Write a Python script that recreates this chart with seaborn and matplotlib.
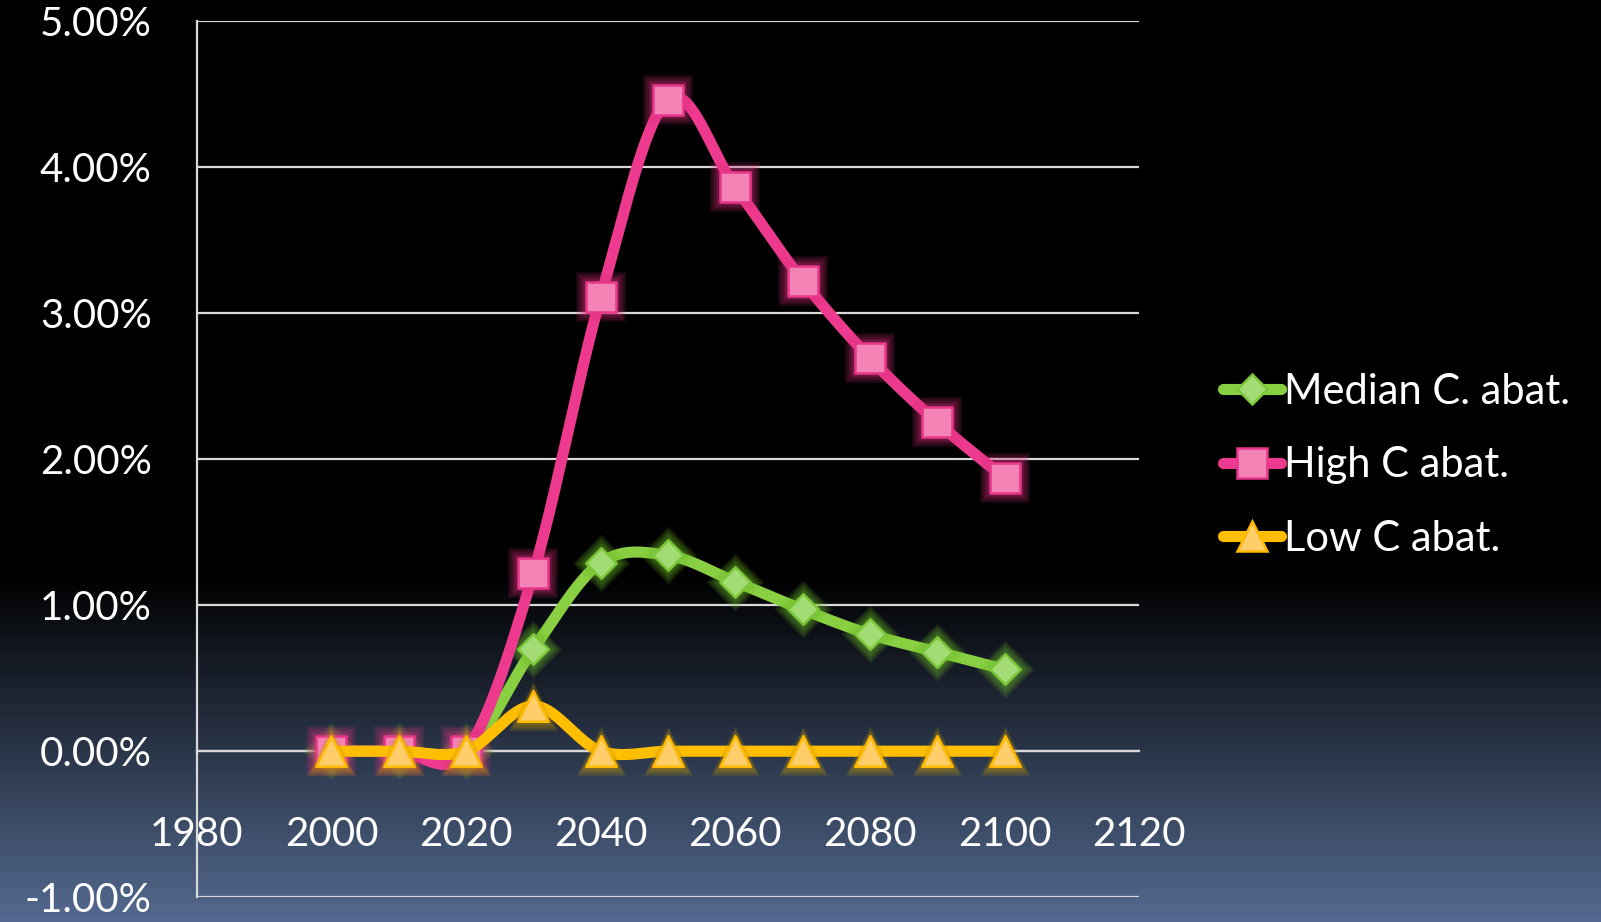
import numpy as np
import pandas as pd
import matplotlib
matplotlib.use("Agg")
import matplotlib.pyplot as plt
import seaborn as sns
from matplotlib.lines import Line2D
from matplotlib.ticker import PercentFormatter


years = [2000, 2010, 2020, 2030, 2040, 2050, 2060, 2070, 2080, 2090, 2100]
median_abat = [0.0, 0.0, 0.0, 0.0070, 0.0129, 0.0134, 0.0116, 0.0097, 0.0080, 0.0068, 0.0056]
high_abat = [0.0, 0.0, 0.0, 0.0122, 0.0311, 0.0446, 0.0386, 0.0322, 0.0269, 0.0225, 0.0187]
low_abat = [0.0, 0.0, 0.0, 0.0031, 0.0, 0.0, 0.0, 0.0, 0.0, 0.0, 0.0]
series_names = ["Median C. abat.", "High C abat.", "Low C abat."]
x_ticks = [1980, 2000, 2020, 2040, 2060, 2080, 2100, 2120]
y_ticks = [-0.01, 0.0, 0.01, 0.02, 0.03, 0.04, 0.05]

GRID = "#d9d9d9"
styles = {
    "Median C. abat.": dict(line="#89cf42", fill="#a3dc74", edge="#7cc63a", glow="#6fbf2a", marker="D", size=15.5),
    "High C abat.": dict(line="#ee3a8e", fill="#f382b5", edge="#e8368a", glow="#e0307f", marker="s", size=21.5),
    "Low C abat.": dict(line="#ffbf00", fill="#ffcd6a", edge="#ffb900", glow="#c89a00", marker="^", size=22),
}


def smooth_curve(x, y, n=40):
    # Bezier smoothing like the office "smoothed line" option
    x = np.asarray(x, float)
    y = np.asarray(y, float)
    px = np.concatenate([[x[0]], x, [x[-1]]])
    py = np.concatenate([[y[0]], y, [y[-1]]])
    t = np.linspace(0, 1, n)
    xs, ys = [], []
    for i in range(len(x) - 1):
        p0 = np.array([px[i], py[i]])
        p1 = np.array([px[i + 1], py[i + 1]])
        p2 = np.array([px[i + 2], py[i + 2]])
        p3 = np.array([px[i + 3], py[i + 3]])
        c1 = p1 + (p2 - p0) / 6
        c2 = p2 - (p3 - p1) / 6
        b = ((1 - t) ** 3)[:, None] * p1 + (3 * (1 - t) ** 2 * t)[:, None] * c1 \
            + (3 * (1 - t) * t ** 2)[:, None] * c2 + (t ** 3)[:, None] * p2
        xs.append(b[:, 0])
        ys.append(b[:, 1])
    return np.concatenate(xs), np.concatenate(ys)


sns.set_style("white")
plt.rcParams["font.family"] = ["Lato", "DejaVu Sans"]
plt.rcParams["axes.unicode_minus"] = False

fig = plt.figure(figsize=(16.01, 9.22), dpi=100)

# background: black fading to slate blue at the bottom
bg = fig.add_axes([0, 0, 1, 1], zorder=-10)
h = 922
rows = np.arange(h)
start = 575
frac = np.clip((rows - start) / (h - start), 0, 1)[:, None]
col = frac * np.array([84, 106, 144]) / 255.0
bg.imshow(np.repeat(col[:, None, :], 4, axis=1), aspect="auto", extent=[0, 1, 0, 1])
bg.set_axis_off()

ax = fig.add_axes([0.1229, 0.0268, 0.5887, 0.9507])
ax.set_facecolor("none")

df = pd.DataFrame({
    "year": years,
    "Median C. abat.": median_abat,
    "High C abat.": high_abat,
    "Low C abat.": low_abat,
})

for k, name in enumerate(series_names):
    st = styles[name]
    sx, sy = smooth_curve(df["year"], df[name])
    sns.lineplot(x=sx, y=sy, ax=ax, color=st["line"], lw=8, sort=False,
                 estimator=None, solid_capstyle="round", zorder=3 + 2 * k)
    # glow around markers
    for g in range(5):
        sns.scatterplot(x=df["year"], y=df[name], ax=ax, marker=st["marker"],
                        s=(st["size"] + 4 + 2.5 * g) ** 2, color=st["glow"],
                        alpha=0.13, linewidth=0, zorder=3.5 + 2 * k)
    sns.scatterplot(x=df["year"], y=df[name], ax=ax, marker=st["marker"],
                    s=st["size"] ** 2, color=st["fill"], edgecolor=st["edge"],
                    linewidth=1.8, zorder=4 + 2 * k)

ax.set_xlim(1980, 2120)
ax.set_ylim(-0.01, 0.05)
ax.set_xticks(x_ticks)
ax.set_yticks(y_ticks)
ax.yaxis.set_major_formatter(PercentFormatter(1.0, decimals=2))
ax.grid(axis="y", color=GRID, lw=1.6, zorder=1)
ax.grid(axis="x", visible=False)
ax.set_axisbelow(True)

for s in ["top", "right"]:
    ax.spines[s].set_visible(False)
ax.spines["left"].set_color(GRID)
ax.spines["left"].set_linewidth(1.6)
ax.spines["bottom"].set_position(("data", 0))
ax.spines["bottom"].set_color(GRID)
ax.spines["bottom"].set_linewidth(1.6)
ax.spines["bottom"].set_zorder(1)

ax.tick_params(axis="y", colors="white", labelsize=29, length=10.5, width=1.6,
               direction="out", pad=22, color=GRID)
ax.tick_params(axis="x", colors="white", labelsize=29, length=10, width=1.6,
               direction="out", pad=37, color=GRID)
ax.set_xlabel("")
ax.set_ylabel("")

handles = []
for name in series_names:
    st = styles[name]
    handles.append(Line2D([0], [0], color=st["line"], lw=8, solid_capstyle="round",
                          marker=st["marker"], markersize=st["size"],
                          markerfacecolor=st["fill"], markeredgecolor=st["edge"],
                          markeredgewidth=1.8))
leg = fig.legend(handles, series_names, loc="center left",
                 bbox_to_anchor=(0.764, 0.4955), frameon=False, fontsize=30,
                 handlelength=1.38, handletextpad=0.08, labelspacing=0.85,
                 borderpad=0, borderaxespad=0)
for t in leg.get_texts():
    t.set_color("white")

fig.savefig("out.png", dpi=100)
